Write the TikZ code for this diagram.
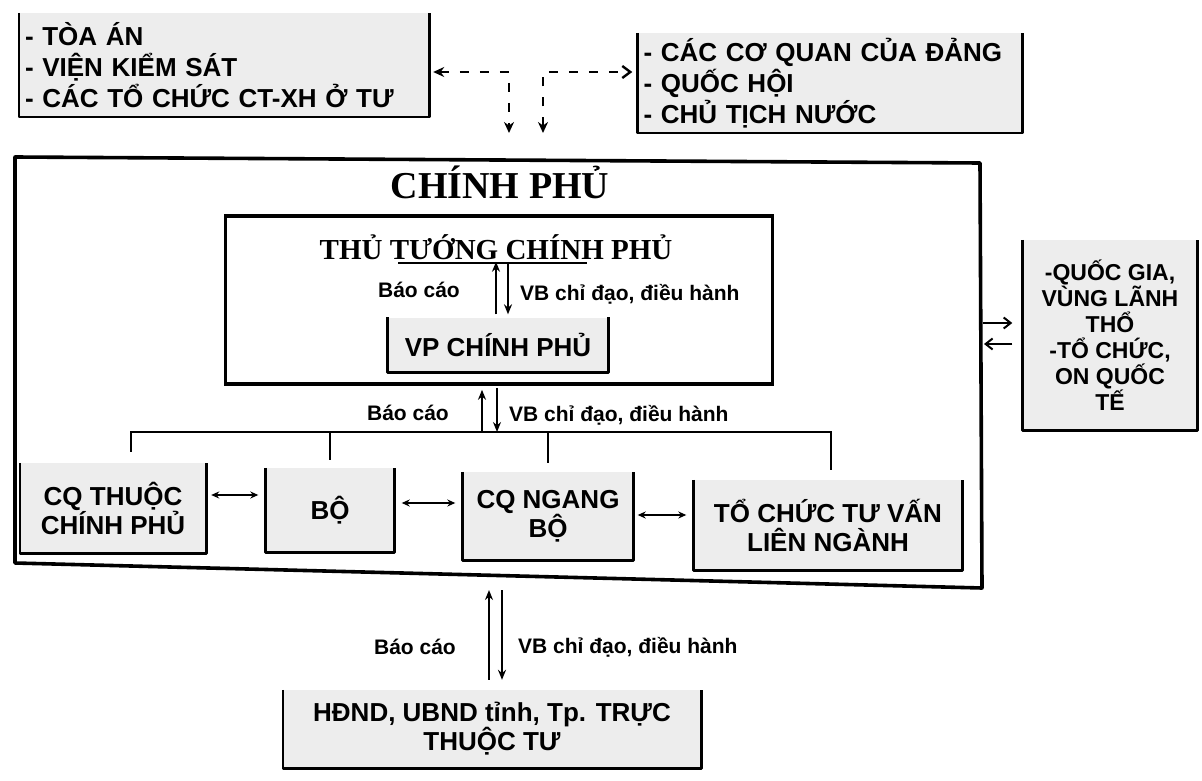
\documentclass[tikz,border=0pt]{standalone}
\usepackage{fontspec}
\setmainfont{Liberation Serif}
\setsansfont{Liberation Sans}
\usetikzlibrary{arrows.meta}

% khung ho canh tren, nhu ban scan
\newcommand{\opentop}[1]{%
  \draw[side] (#1.north west) -- (#1.south west) -- (#1.south east) -- (#1.north east);}

\begin{document}
\begin{tikzpicture}[
  x=1pt, y=-1pt,
  font=\sffamily\bfseries\fontsize{26}{29}\selectfont,
  org/.style={fill=black!7, inner xsep=6pt, inner ysep=0pt, align=center},
  lst/.style={org, align=left, font=\sffamily\bfseries\fontsize{26}{31}\selectfont},
  side/.style={line width=2.6pt, line join=round},
  frame/.style={draw, line width=3.6pt},
  lbl/.style={font=\sffamily\bfseries\fontsize{21}{23}\selectfont, inner sep=0pt},
  head/.style={font=\rmfamily\bfseries\fontsize{#1}{#1}\selectfont, inner sep=0pt},
  up/.style={line width=1.8pt, -{Stealth[length=10pt, width=8pt]}},
  two/.style={line width=1.8pt, {Stealth[length=8pt, width=7pt]}-{Stealth[length=8pt, width=7pt]}},
  sarr/.style={line width=2pt, -{Straight Barb[length=7pt, width=11pt]}},
  dlink/.style={line width=2.4pt, dash pattern=on 9pt off 11pt},
  bus/.style={line width=2.6pt}
]
\useasboundingbox (0,0) rectangle (1202,781);

% hang tren
\node[lst, text width=398pt, minimum height=104pt] (ta) at (224,65)
  {- TÒA ÁN\\ - VIỆN KIỂM SÁT\\ - CÁC TỔ CHỨC CT-XH Ở TƯ};
\node[lst, text width=373pt, minimum height=100pt] (dq) at (830,83)
  {- CÁC CƠ QUAN CỦA ĐẢNG\\ - QUỐC HỘI\\ - CHỦ TỊCH NƯỚC};
\opentop{ta}
\opentop{dq}

% khung chinh phu
\coordinate (cpnw) at (15,157);
\coordinate (cpne) at (980,163);
\coordinate (cpse) at (982,588);
\coordinate (cpsw) at (15,563);
\coordinate (cpt) at (526,160);
\coordinate (cpe) at (981,335);
\coordinate (cps) at (490,576);
\draw[line width=3.6pt, line join=round] (cpnw) -- (cpne) -- (cpse) -- (cpsw) -- cycle;
\node[head=38] (cp) at (500,182) {CHÍNH PHỦ};

\node[frame, minimum width=547pt, minimum height=168pt] (tt) at (499,300) {};
\node[head=29] (ttg) at (496,247) {THỦ TƯỚNG CHÍNH PHỦ};
\draw[line width=1.6pt] ([xshift=-98pt, yshift=-4pt]ttg.base) -- ([xshift=91pt, yshift=-4pt]ttg.base);

\node[org, minimum width=221pt, minimum height=55pt] (vp) at (498,345) {VP CHÍNH PHỦ};
\opentop{vp}

\draw[up, shorten <=3pt, shorten >=2pt] ([xshift=-2pt]vp.north) -- ([xshift=-2pt]vp.north |- ttg.south);
\draw[up, shorten <=2pt, shorten >=3pt] ([xshift=10pt]vp.north |- ttg.south) -- ([xshift=10pt]vp.north);
\node[lbl, anchor=east] (bc1) at (460,290) {Báo cáo};
\node[lbl, anchor=west] (vb1) at (520,294) {VB chỉ đạo, điều hành};

% cac co quan
\node[org, minimum width=186pt, minimum height=90pt] (cqt) at (113,508) {CQ THUỘC\\ CHÍNH PHỦ};
\node[org, minimum width=129pt, minimum height=84pt] (bo) at (330,510) {BỘ};
\node[org, minimum width=171pt, minimum height=88pt] (cqn) at (548,516) {CQ NGANG\\ BỘ};
\node[org, minimum width=269pt, minimum height=90pt] (tcv) at (828,525) {TỔ CHỨC TƯ VẤN\\ LIÊN NGÀNH};
\opentop{cqt}
\opentop{bo}
\opentop{cqn}
\opentop{tcv}

\coordinate (bus) at (490,432);
\draw[bus] ([xshift=18pt, yshift=11pt]cqt.north) |- (bus) -| ([xshift=3pt, yshift=10pt]tcv.north);
\draw[bus] ([yshift=8pt]bo.north) -- (bo.north |- bus);
\draw[bus] ([yshift=9pt]cqn.north) -- (cqn.north |- bus);
\draw[up, shorten >=4pt] ([xshift=-17pt]tt.south |- bus) -- ([xshift=-17pt]tt.south);
\draw[up, shorten <=2pt] ([xshift=-2pt]tt.south) -- ([xshift=-2pt]tt.south |- bus);
\node[lbl, anchor=east] (bc2) at (449,413) {Báo cáo};
\node[lbl, anchor=west] (vb2) at (509,415) {VB chỉ đạo, điều hành};

\draw[two, shorten <=5pt, shorten >=7pt] ([yshift=13pt]cqt.east) -- ([yshift=13pt]cqt.east -| bo.west);
\draw[two, shorten <=7pt, shorten >=7pt] ([yshift=7pt]bo.east) -- ([yshift=7pt]bo.east -| cqn.west);
\draw[two, shorten <=4pt, shorten >=7pt] ([yshift=1pt]cqn.east) -- ([yshift=1pt]cqn.east -| tcv.west);

% quoc te
\node[org, minimum width=175pt, minimum height=190pt,
  font=\sffamily\bfseries\fontsize{23}{26}\selectfont] (qg) at (1110,335)
  {-QUỐC GIA,\\ VÙNG LÃNH\\ THỔ\\ -TỔ CHỨC,\\ ON QUỐC\\ TẾ};
\opentop{qg}
\draw[sarr, shorten <=2pt, shorten >=10pt] ([yshift=12pt]cpe) -- ([yshift=12pt]cpe -| qg.west);
\draw[sarr, shorten <=10pt, shorten >=3pt] ([yshift=-9pt]cpe -| qg.west) -- ([yshift=-9pt]cpe);

% lien he hang tren
\coordinate (kl) at (509,72);
\coordinate (kr) at (543,72);
\draw[dlink, {Stealth[length=11pt, width=10pt]}-{Stealth[length=11pt, width=10pt]},
  shorten <=4pt, shorten >=27pt] (ta.east |- kl) -- (kl) -- (kl |- cpt);
\draw[dlink, {Stealth[length=11pt, width=10pt]}-{Straight Barb[length=8pt, width=12pt]},
  shorten <=27pt, shorten >=5pt] (kr |- cpt) -- (kr) -- (dq.west |- kr);

% dia phuong
\node[org, minimum width=418pt, minimum height=78pt] (hd) at (492,729)
  {HĐND, UBND tỉnh, Tp. TRỰC\\ THUỘC TƯ};
\opentop{hd}
\draw[up, shorten >=14pt] ([xshift=-3pt, yshift=10pt]hd.north) -- ([xshift=-3pt]hd.north |- cps);
\draw[up, shorten <=14pt] ([xshift=10pt]hd.north |- cps) -- ([xshift=10pt, yshift=10pt]hd.north);
\node[lbl, anchor=east] (bc3) at (456,647) {Báo cáo};
\node[lbl, anchor=west] (vb3) at (518,647) {VB chỉ đạo, điều hành};
\end{tikzpicture}
\end{document}
